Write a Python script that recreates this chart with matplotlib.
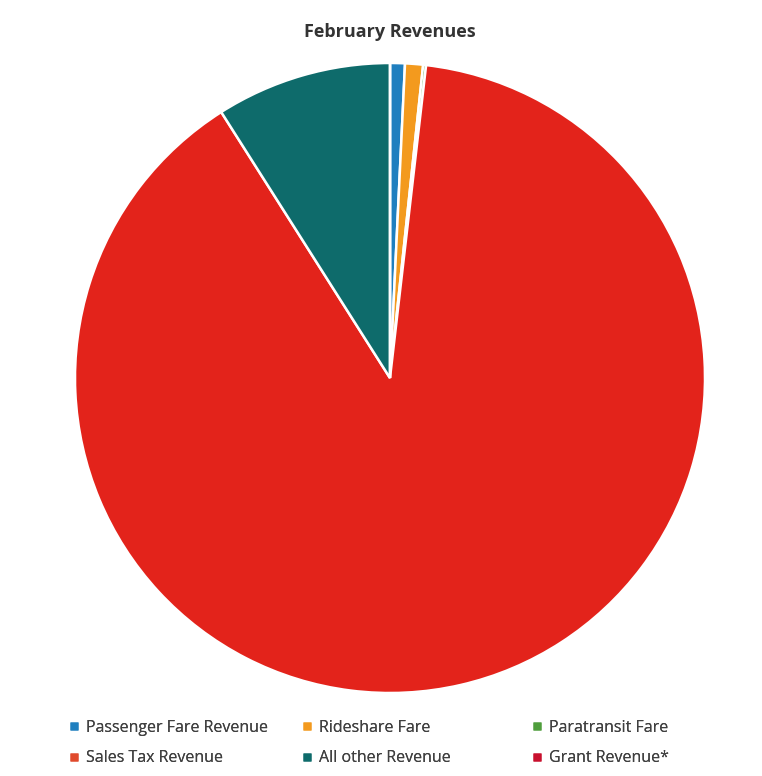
import matplotlib.pyplot as plt
from matplotlib.lines import Line2D

# February revenue shares (percent of total)
categories = ['Passenger Fare Revenue', 'Rideshare Fare', 'Paratransit Fare',
              'Sales Tax Revenue', 'All other Revenue', 'Grant Revenue*']
shares = [0.76, 0.92, 0.15, 89.17, 9.0, 0.0]
colors = ['#1f7fbf', '#f39a1e', '#4f9e3c', '#e3231b', '#0e6b6b', '#c8102e']
legend_colors = ['#1f7fbf', '#f39a1e', '#4f9e3c', '#e04a2c', '#0e6b6b', '#c8102e']

W, H = 762, 776
fig = plt.figure(figsize=(W / 100, H / 100), dpi=100)
plt.rcParams['font.family'] = ['Open Sans', 'DejaVu Sans']

# pie centred at (390, 378) px with radius 315 px
cx, cy, r = 390, 378, 315
ax = fig.add_axes([(cx - r) / W, (H - cy - r) / H, 2 * r / W, 2 * r / H])
ax.pie(shares, colors=colors, startangle=90, counterclock=False, radius=1,
       wedgeprops=dict(edgecolor='white', linewidth=1.8))
ax.set_xlim(-1, 1)
ax.set_ylim(-1, 1)
ax.set_aspect('equal')
ax.axis('off')

fig.text(cx / W, 1 - 32 / H, 'February Revenues', ha='center', va='center',
         fontsize=13, fontweight='bold', color='#333333')

# legend: three columns of two rows each
col_x = [69, 302, 532]
for c in range(3):
    idx = [c, c + 3]
    handles = [Line2D([], [], marker='s', linestyle='none', markersize=6,
                      markerfacecolor=legend_colors[i], markeredgecolor='none')
               for i in idx]
    leg = fig.legend(handles, [categories[i] for i in idx],
                     loc='upper left', bbox_to_anchor=(col_x[c] / W, 1 - 720 / H),
                     frameon=False, fontsize=11.5, handlelength=0.6,
                     handletextpad=0.45, labelspacing=0.9, borderpad=0,
                     borderaxespad=0, labelcolor='#404040')
    fig.add_artist(leg)

fig.savefig('out.png', dpi=100, facecolor='white')
